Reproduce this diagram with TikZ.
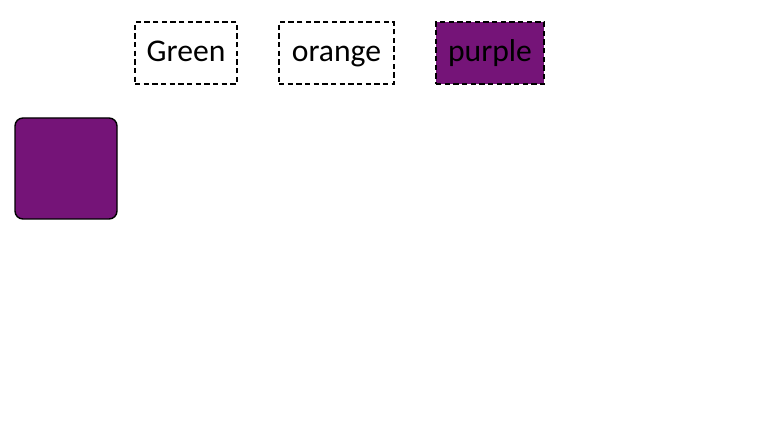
\documentclass[tikz,border=0pt]{standalone}
\usepackage{fontspec}
\setmainfont{Carlito}
\definecolor{boxpurple}{RGB}{117,20,120}

\begin{document}
\begin{tikzpicture}[
  colorbox/.style={draw=black, dashed, dash pattern=on 0.16cm off 0.1cm, line width=1.2pt,
    minimum height=1.86cm, inner sep=0pt, text height=0.75cm, text depth=0.21cm,
    font=\fontsize{27}{31}\selectfont},
  swatch/.style={draw=black, line width=1.2pt, rounded corners=0.24cm, fill=boxpurple,
    minimum width=3.06cm, minimum height=3.03cm, inner sep=0pt}
]
  \useasboundingbox (0,0) rectangle (22.98cm,-13.2cm);
  \node[colorbox, minimum width=3.06cm] (green) at (5.58cm,-1.59cm) {Green};
  \node[colorbox, minimum width=3.45cm] (orange) at (10.095cm,-1.59cm) {orange};
  \node[colorbox, minimum width=3.24cm, fill=boxpurple] (purple) at (14.7cm,-1.59cm) {purple};
  \node[swatch] (sample) at (1.98cm,-5.055cm) {};
\end{tikzpicture}
\end{document}
